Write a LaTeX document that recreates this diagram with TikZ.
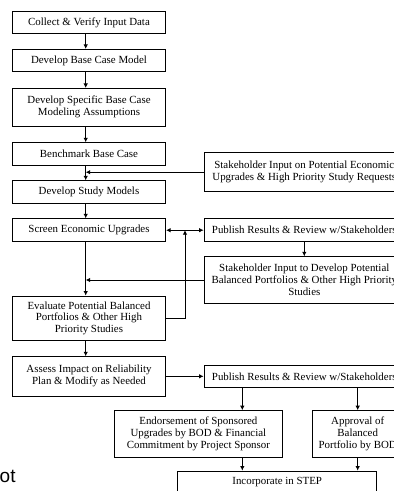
\documentclass[tikz,border=0pt]{standalone}
\usepackage{fontspec}
\setmainfont{Liberation Serif}
\newfontfamily\cutfont{Liberation Sans}
\usepackage{tikz}
\usetikzlibrary{positioning}
\usetikzlibrary{arrows.meta}
\tikzset{flowbox/.style={draw, line width=0.8pt, align=center,
font=\fontsize{10.9}{11.9}\selectfont, inner sep=1pt}}

\begin{document}
\begin{tikzpicture}[x=1pt, y=-1pt, >={Latex[length=4.5pt,width=4.5pt]},
	lbox/.style={flowbox, minimum width=153.4pt},
	rbox/.style={flowbox, minimum width=200.6pt},
	link/.style={line width=0.8pt}]
	\useasboundingbox (0,0) rectangle (394,491);
	% left column
	\node[lbox, minimum height=21.6pt] (collect) at (89,22.5) {Collect \& Verify Input Data};
	\node[lbox, minimum height=22.4pt] (basecase) at (89,60.5) {Develop Base Case Model};
	\node[lbox, minimum height=37.7pt] (assume) at (89,107.2) {Develop Specific Base Case\\Modeling Assumptions};
	\node[lbox, minimum height=22.3pt] (bench) at (89,153.8) {Benchmark Base Case};
	\node[lbox, minimum height=22.6pt] (study) at (89,192) {Develop Study Models};
	\node[lbox, minimum height=23pt] (screen) at (89,230.2) {Screen Economic Upgrades};
	\node[lbox, minimum height=44.7pt] (evaluate) at (89,318.3) {Evaluate Potential Balanced\\Portfolios \& Other High\\Priority Studies};
	\node[lbox, minimum height=39.3pt] (assess) at (89,376.3) {Assess Impact on Reliability\\Plan \& Modify as Needed};
	% right column
	\node[rbox, minimum height=39pt] (input1) at (304.3,172.2) {Stakeholder Input on Potential Economic\\Upgrades \& High Priority Study Requests};
	\node[rbox, minimum height=23pt] (publish1) at (304.3,230.2) {Publish Results \& Review w/Stakeholders};
	\node[rbox, minimum height=46.6pt] (input2) at (304.3,280) {Stakeholder Input to Develop Potential\\Balanced Portfolios \& Other High Priority\\Studies};
	\node[rbox, minimum height=22.7pt] (publish2) at (304.3,376.3) {Publish Results \& Review w/Stakeholders};
	% bottom row
	\node[flowbox, minimum width=168.7pt, minimum height=46.6pt] (endorse) at (198.4,433.9) {Endorsement of Sponsored\\Upgrades by BOD \& Financial\\Commitment by Project Sponsor};
	\node[flowbox, minimum width=90.8pt, minimum height=46.6pt] (approve) at (357.7,433.9) {Approval of\\Balanced\\Portfolio by BOD};
	\node[flowbox, minimum width=199pt, minimum height=22.6pt] (step) at (277.2,482.3) {Incorporate in STEP};
	\node[font=\cutfont\fontsize{19}{22}\selectfont, anchor=base west, inner sep=0pt] (cut) at (-0.5,482) {ot};
	% connectors
	\coordinate (spine) at (85.7,0);
	\coordinate (drop) at (242.3,0);
	\coordinate (meet) at (185,230.2);
	\draw[link, ->] (spine |- collect.south) -- (spine |- basecase.north);
	\draw[link, ->] (spine |- basecase.south) -- (spine |- assume.north);
	\draw[link, ->] (spine |- assume.south) -- (spine |- bench.north);
	\draw[link, ->] (spine |- bench.south) -- (spine |- study.north);
	\draw[link, ->] (input1.west) -- (input1.west -| spine);
	\draw[link, ->] (spine |- study.south) -- (spine |- screen.north);
	\draw[link, ->] (spine |- screen.south) -- (spine |- evaluate.north);
	\draw[link, ->] (input2.west) -- (input2.west -| spine);
	\draw[link, <->] (screen.east) -- (publish1.west);
	\draw[link, ->] (evaluate.east) -| (meet);
	\draw[link, ->] (publish1.south) -- (input2.north);
	\draw[link, ->] (spine |- evaluate.south) -- (spine |- assess.north);
	\draw[link, ->] (assess.east) -- (publish2.west);
	\draw[link, ->] (drop |- publish2.south) -- (drop |- endorse.north);
	\draw[link, ->] (publish2.south -| approve.north) -- (approve.north);
	\draw[link, ->] (drop |- endorse.south) -- (drop |- step.north);
	\draw[link, ->] (approve.south) -- (approve.south |- step.north);
\end{tikzpicture}
\end{document}
